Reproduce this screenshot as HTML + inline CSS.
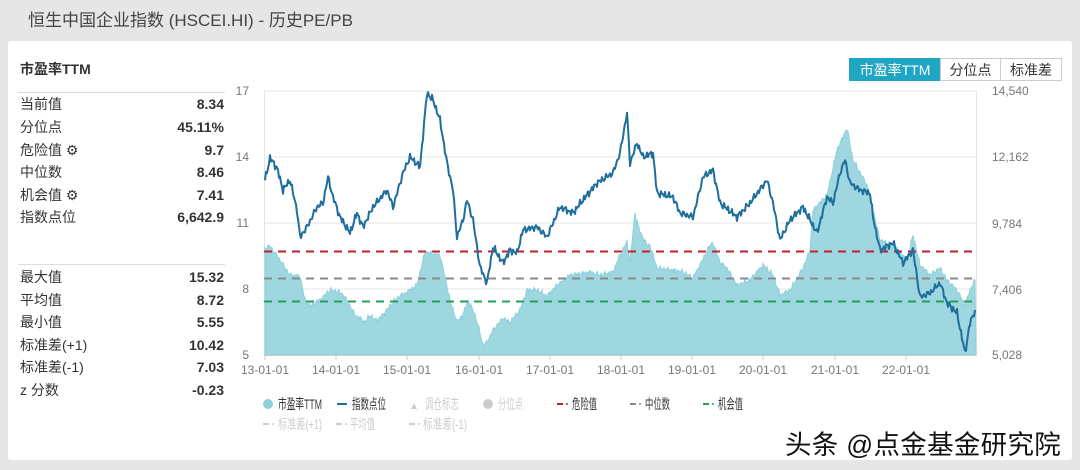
<!DOCTYPE html>
<html><head><meta charset="utf-8"><style>
body{margin:0;width:1080px;height:470px;background:#e6e6e6;font-family:"Liberation Sans","Noto Sans CJK SC",sans-serif;overflow:hidden;position:relative}
.t{position:absolute;left:28px;top:6px;font-size:17px;color:#444}
.card{position:absolute;left:8px;top:41px;width:1064px;height:419px;background:#fff;border-radius:3px}
.row{position:absolute;left:20px;width:204px;font-size:14px;color:#333;display:flex;justify-content:space-between;height:20px;line-height:20px}
.row b{font-weight:bold;color:#333}
.hr{position:absolute;left:18px;width:207px;height:1px;background:#ddd}
.btn{position:absolute;top:58px;height:23px;line-height:23px;font-size:14px;text-align:center;border:1px solid #ccc;box-sizing:border-box;color:#333;background:#fff}
.wm{position:absolute;left:785px;top:423px;font-size:26.5px;color:#111;letter-spacing:0.3px;text-shadow:0 0 2px #fff,0 0 2px #fff}
</style></head><body>
<div class="t">恒生中国企业指数 (HSCEI.HI) - 历史PE/PB</div>
<div class="card"></div>
<div style="position:absolute;left:20px;top:59px;font-size:14px;font-weight:bold;color:#333">市盈率TTM</div>
<div class="hr" style="top:92px"></div>
<div class="row" style="top:94px"><span>当前值</span><b>8.34</b></div>
<div class="row" style="top:117px"><span>分位点</span><b>45.11%</b></div>
<div class="row" style="top:140px"><span>危险值 ⚙</span><b>9.7</b></div>
<div class="row" style="top:162px"><span>中位数</span><b>8.46</b></div>
<div class="row" style="top:185px"><span>机会值 ⚙</span><b>7.41</b></div>
<div class="row" style="top:207px"><span>指数点位</span><b>6,642.9</b></div>
<div class="hr" style="top:264px"></div>
<div class="row" style="top:267px"><span>最大值</span><b>15.32</b></div>
<div class="row" style="top:290px"><span>平均值</span><b>8.72</b></div>
<div class="row" style="top:312px"><span>最小值</span><b>5.55</b></div>
<div class="row" style="top:335px"><span>标准差(+1)</span><b>10.42</b></div>
<div class="row" style="top:357px"><span>标准差(-1)</span><b>7.03</b></div>
<div class="row" style="top:380px"><span>z 分数</span><b>-0.23</b></div>
<div class="btn" style="left:849px;width:92px;background:#1fa6c4;color:#fff;border-color:#1fa6c4">市盈率TTM</div>
<div class="btn" style="left:940px;width:61px">分位点</div>
<div class="btn" style="left:1000px;width:62px">标准差</div>
<svg width="1080" height="470" style="position:absolute;left:0;top:0" font-family="Liberation Sans, Noto Sans CJK SC, sans-serif">
<g stroke="#e4e4e4" stroke-width="1">
<line x1="264" y1="91" x2="976" y2="91"/><line x1="264" y1="157" x2="976" y2="157"/><line x1="264" y1="223" x2="976" y2="223"/><line x1="264" y1="289" x2="976" y2="289"/>
<line x1="264.5" y1="91" x2="264.5" y2="355"/><line x1="976.5" y1="91" x2="976.5" y2="355"/>
</g>
<path id="area" fill="#8dd0db" fill-opacity="0.85" stroke="#8dd0db" stroke-width="1"/>
<line x1="264" y1="355.5" x2="976" y2="355.5" stroke="#ccc"/>
<g stroke="#ccc"><line x1="265" y1="355" x2="265" y2="360"/><line x1="336" y1="355" x2="336" y2="360"/><line x1="407" y1="355" x2="407" y2="360"/><line x1="479" y1="355" x2="479" y2="360"/><line x1="550" y1="355" x2="550" y2="360"/><line x1="621" y1="355" x2="621" y2="360"/><line x1="692" y1="355" x2="692" y2="360"/><line x1="763" y1="355" x2="763" y2="360"/><line x1="835" y1="355" x2="835" y2="360"/><line x1="906" y1="355" x2="906" y2="360"/></g>
<g stroke-width="2" stroke-dasharray="8,6">
<line x1="264" y1="251.5" x2="976" y2="251.5" stroke="#c4202c"/>
<line x1="264" y1="278.5" x2="976" y2="278.5" stroke="#8a8a8a"/>
<line x1="264" y1="301.5" x2="976" y2="301.5" stroke="#22a05a"/>
</g>
<polyline id="idx" fill="none" stroke="#1f6e9c" stroke-width="2" stroke-linejoin="round"/>
<g font-size="12" fill="#777" text-anchor="end">
<text x="249" y="95">17</text><text x="249" y="161">14</text><text x="249" y="227">11</text><text x="249" y="293">8</text><text x="249" y="359">5</text>
</g>
<g font-size="12" fill="#777">
<text x="992" y="95">14,540</text><text x="992" y="161">12,162</text><text x="992" y="228">9,784</text><text x="992" y="294">7,406</text><text x="992" y="359">5,028</text>
</g>
<g font-size="12" fill="#777" text-anchor="middle">
<text x="265" y="374">13-01-01</text><text x="336" y="374">14-01-01</text><text x="407" y="374">15-01-01</text><text x="479" y="374">16-01-01</text><text x="550" y="374">17-01-01</text><text x="621" y="374">18-01-01</text><text x="692" y="374">19-01-01</text><text x="763" y="374">20-01-01</text><text x="835" y="374">21-01-01</text><text x="906" y="374">22-01-01</text>
</g>
<g font-size="14">
<circle cx="268" cy="404" r="5" fill="#8dd0db"/><text x="278" y="409" fill="#333" textLength="44" lengthAdjust="spacingAndGlyphs">市盈率TTM</text>
<line x1="337" y1="404" x2="347" y2="404" stroke="#1f6e9c" stroke-width="2"/><text x="352" y="409" fill="#333" textLength="34" lengthAdjust="spacingAndGlyphs">指数点位</text>
<text x="409" y="409" fill="#ccc" font-size="10">▲</text><text x="425" y="409" fill="#ccc" textLength="34" lengthAdjust="spacingAndGlyphs">调仓标志</text>
<circle cx="488" cy="404" r="5" fill="#ccc"/><text x="498" y="409" fill="#ccc" textLength="25" lengthAdjust="spacingAndGlyphs">分位点</text>
<line x1="557" y1="404" x2="563" y2="404" stroke="#c4202c" stroke-width="2"/><circle cx="567" cy="404" r="1" fill="#c4202c"/><text x="572" y="409" fill="#333" textLength="25" lengthAdjust="spacingAndGlyphs">危险值</text>
<line x1="630" y1="404" x2="636" y2="404" stroke="#888" stroke-width="2"/><circle cx="640" cy="404" r="1" fill="#888"/><text x="645" y="409" fill="#333" textLength="25" lengthAdjust="spacingAndGlyphs">中位数</text>
<line x1="703" y1="404" x2="709" y2="404" stroke="#22a05a" stroke-width="2"/><circle cx="713" cy="404" r="1" fill="#22a05a"/><text x="718" y="409" fill="#333" textLength="25" lengthAdjust="spacingAndGlyphs">机会值</text>
<line x1="263" y1="424" x2="269" y2="424" stroke="#ccc" stroke-width="2"/><circle cx="273" cy="424" r="1" fill="#ccc"/><text x="278" y="429" fill="#ccc" textLength="44" lengthAdjust="spacingAndGlyphs">标准差(+1)</text>
<line x1="336" y1="424" x2="342" y2="424" stroke="#ccc" stroke-width="2"/><circle cx="346" cy="424" r="1" fill="#ccc"/><text x="350" y="429" fill="#ccc" textLength="25" lengthAdjust="spacingAndGlyphs">平均值</text>
<line x1="409" y1="424" x2="415" y2="424" stroke="#ccc" stroke-width="2"/><circle cx="419" cy="424" r="1" fill="#ccc"/><text x="423" y="429" fill="#ccc" textLength="44" lengthAdjust="spacingAndGlyphs">标准差(-1)</text>
</g>
</svg>
<div class="wm">头条 @点金基金研究院</div>
<script>
function dense(pts,amp,seed){var out=[];for(var i=0;i<pts.length-1;i++){var a=pts[i],b=pts[i+1];for(var x=a[0];x<b[0];x+=1){var t=(x-a[0])/(b[0]-a[0]);var y=a[1]+(b[1]-a[1])*t;y+=amp*(Math.sin(x*1.7+seed)+0.6*Math.sin(x*3.1+seed*2)+0.4*Math.sin(x*0.9+seed));out.push([x,Math.min(355,y)]);}}out.push(pts[pts.length-1]);return out;}
var A=[[265,248],[270,246],[280,260],[290,275],[300,276],[305,300],[310,306],[320,300],[325,295],[330,290],[340,292],[345,297],[350,306],[355,315],[360,318],[365,322],[370,315],[375,320],[380,318],[390,306],[395,300],[400,296],[407,292],[417,285],[425,252],[440,255],[450,300],[457,322],[463,315],[468,300],[475,315],[478,325],[483,345],[487,342],[493,330],[503,318],[510,322],[520,310],[527,290],[537,290],[547,296],[557,285],[570,275],[590,272],[600,275],[613,272],[620,255],[627,242],[630,262],[635,213],[640,232],[647,245],[650,245],[657,268],[673,270],[683,272],[693,278],[700,265],[710,245],[713,243],[720,262],[727,268],[737,285],[750,280],[763,265],[773,275],[780,295],[790,290],[803,268],[810,250],[813,210],[827,195],[837,150],[847,128],[853,160],[867,185],[873,210],[880,240],[893,245],[907,260],[913,235],[920,265],[930,275],[940,268],[947,280],[957,290],[965,305],[970,290],[975,280]];
var I=[[265,180],[270,158],[277,168],[283,190],[290,180],[297,210],[300,237],[307,227],[317,207],[323,203],[328,177],[333,197],[340,217],[350,233],[357,213],[363,227],[373,207],[387,190],[393,207],[403,173],[410,157],[420,167],[427,93],[433,100],[440,120],[447,163],[453,190],[457,237],[463,220],[467,200],[473,220],[480,267],[487,283],[493,247],[503,263],[510,250],[517,253],[523,230],[537,227],[547,237],[560,207],[573,213],[583,200],[597,183],[613,173],[620,153],[627,113],[630,163],[637,143],[643,157],[653,153],[657,193],[673,197],[680,213],[693,217],[703,177],[713,170],[720,203],[737,217],[750,203],[767,180],[773,203],[780,240],[790,220],[803,207],[817,233],[827,197],[833,203],[840,173],[845,160],[850,183],[860,190],[870,193],[873,217],[880,250],[893,243],[903,263],[913,250],[920,297],[930,293],[940,283],[947,303],[957,313],[965,353],[970,323],[975,310]];
var a=dense(A,1.5,1),i=dense(I,2.2,5);
document.getElementById('area').setAttribute('d','M265,355 '+a.map(function(p){return 'L'+p[0]+','+p[1].toFixed(1)}).join(' ')+' L976,355 Z');
document.getElementById('idx').setAttribute('points',i.map(function(p){return p[0]+','+p[1].toFixed(1)}).join(' '));
</script>
</body></html>
